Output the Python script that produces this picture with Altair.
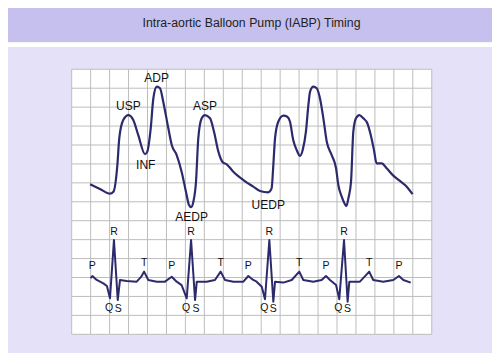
import altair as alt
import pandas as pd

TITLE = "Intra-aortic Balloon Pump (IABP) Timing"

# Arterial pressure trace (time and amplitude in grid squares)
art_t = [0.97, 1.49, 2.02, 2.20, 2.41, 2.51, 2.72, 2.99, 3.25, 3.51, 3.87, 3.99, 4.17, 4.31, 4.49, 4.66,
         4.83, 5.10, 5.28, 5.54, 5.80, 6.03, 6.19, 6.30, 6.42, 6.56, 6.68, 6.86, 7.03, 7.30, 7.51, 7.74,
         7.97, 8.18, 8.53, 9.06, 9.58, 9.94, 10.37, 10.55, 10.64, 10.73, 10.90, 11.17, 11.38, 11.52, 11.69,
         11.87, 12.05, 12.19, 12.36, 12.49, 12.58, 12.75, 12.93, 13.10, 13.28, 13.46, 13.72, 13.95, 14.07,
         14.25, 14.42, 14.50, 14.60, 14.74, 14.86, 15.00, 15.18, 15.39, 15.60, 15.78, 15.95, 16.09, 16.36,
         16.62, 16.97, 17.32, 17.68, 17.99]
art_p = [7.92, 7.68, 7.43, 7.53, 8.94, 10.35, 11.32, 11.58, 11.32, 10.53, 9.51, 9.65, 10.88, 12.47, 13.08, 13.00,
         12.29, 10.88, 10.00, 9.47, 8.59, 7.53, 6.83, 6.72, 7.00, 8.06, 10.35, 11.41, 11.58, 11.41, 10.70, 9.65,
         9.09, 8.98, 8.59, 8.15, 7.80, 7.57, 7.50, 7.71, 8.94, 10.35, 11.23, 11.55, 11.49, 11.23, 10.26,
         9.74, 9.43, 9.74, 10.70, 12.11, 12.82, 13.08, 13.00, 12.47, 11.41, 10.17, 9.47, 8.77, 7.89,
         7.27, 6.87, 6.78, 7.18, 8.06, 10.70, 11.41, 11.58, 11.41, 11.15, 10.53, 9.74, 9.03, 9.03,
         8.77, 8.38, 8.10, 7.80, 7.40]

# ECG trace
ecg_t = [1.00, 1.09, 1.32, 1.67, 1.86, 2.02, 2.23, 2.43, 2.55, 2.90, 3.43, 3.66, 3.82, 4.04, 4.49, 4.92,
         5.28, 5.54, 5.80, 6.07, 6.30, 6.51, 6.60, 7.12, 7.56, 7.86, 8.09, 8.53, 9.06, 9.32, 9.58, 9.76,
         10.03, 10.20, 10.43, 10.64, 10.73, 11.17, 11.61, 12.01, 12.22, 12.75, 13.19, 13.42, 13.63, 13.95,
         14.12, 14.37, 14.56, 14.65, 15.21, 15.70, 15.91, 16.44, 16.97, 17.27, 17.50, 17.89]
ecg_v = [2.96, 3.08, 2.87, 2.69, 2.55, 1.90, 4.98, 1.81, 2.87, 2.82, 2.78, 3.03, 3.31, 2.87, 2.78, 2.78,
         3.04, 2.78, 2.60, 1.90, 4.98, 1.81, 2.78, 2.78, 2.87, 3.31, 2.87, 2.78, 2.78, 3.08, 2.87, 2.78,
         2.51, 1.85, 4.98, 1.72, 2.78, 2.73, 2.87, 3.31, 2.87, 2.78, 2.87, 3.08, 2.87, 2.60,
         1.85, 4.98, 1.72, 2.78, 2.78, 3.31, 2.87, 2.78, 2.87, 3.08, 2.87, 2.73]

# Pressure annotations
press_labels = ["ADP", "USP", "INF", "ASP", "AEDP", "UEDP"]
press_lx = [4.48, 2.99, 3.91, 7.03, 6.33, 10.37]
press_ly = [13.56, 12.06, 8.94, 12.08, 6.21, 6.83]

# ECG annotations
ecg_labels = ["R", "R", "R", "R",
              "P", "P", "P", "P", "P",
              "T", "T", "T", "T",
              "Q", "Q", "Q", "Q",
              "S", "S", "S", "S"]
ecg_lx = [2.23, 6.30, 10.43, 14.37,
          1.09, 5.28, 9.32, 13.42, 17.27,
          3.82, 7.86, 12.01, 15.70,
          1.97, 6.03, 10.16, 14.07,
          2.46, 6.56, 10.64, 14.56]
ecg_ly = [5.42, 5.42, 5.42, 5.42,
          3.61, 3.61, 3.61, 3.61, 3.61,
          3.78, 3.78, 3.78, 3.78,
          1.39, 1.39, 1.39, 1.39,
          1.31, 1.31, 1.31, 1.31]

grid_x = list(range(0, 20))
grid_y = list(range(0, 15))

W, H = 484, 345
BAND = "#c6c0ee"
BG = "#e5e1f8"
INK = "#2c2a6c"
GRID = "#bdbdbd"
FONT = "Liberation Sans"

xs = alt.Scale(domain=[-3.361, 22.179], nice=False, zero=False)
ys = alt.Scale(domain=[-0.988, 17.237], nice=False, zero=False)

art_df = pd.DataFrame({"t": art_t, "p": art_p, "i": range(len(art_t))})
ecg_df = pd.DataFrame({"t": ecg_t, "v": ecg_v, "i": range(len(ecg_t))})
pl_df = pd.DataFrame({"label": press_labels, "x": press_lx, "y": press_ly})
el_df = pd.DataFrame({"label": ecg_labels, "x": ecg_lx, "y": ecg_ly})
gx_df = pd.DataFrame({"x": grid_x, "y0": min(grid_y), "y1": max(grid_y)})
gy_df = pd.DataFrame({"y": grid_y, "x0": min(grid_x), "x1": max(grid_x)})
box_df = pd.DataFrame({"x0": [min(grid_x)], "x1": [max(grid_x)], "y0": [min(grid_y)], "y1": [max(grid_y)]})
one = pd.DataFrame({"a": [0]})

band = alt.Chart(one).mark_rect(color=BAND).encode(
    x=alt.value(0), x2=alt.value(W), y=alt.value(0), y2=alt.value(34.3))
stripe = alt.Chart(one).mark_rect(color="white").encode(
    x=alt.value(0), x2=alt.value(W), y=alt.value(34.3), y2=alt.value(39))
title = alt.Chart(one).mark_text(text=TITLE, font=FONT, fontSize=12.3, color="#222222",
                                 align="center", baseline="middle").encode(
    x=alt.value(243.5), y=alt.value(14.7))

box = alt.Chart(box_df).mark_rect(color="white").encode(
    x=alt.X("x0:Q", scale=xs, axis=None), x2="x1:Q",
    y=alt.Y("y0:Q", scale=ys, axis=None), y2="y1:Q")
vlines = alt.Chart(gx_df).mark_rule(color=GRID, strokeWidth=1).encode(
    x=alt.X("x:Q", scale=xs, axis=None),
    y=alt.Y("y0:Q", scale=ys, axis=None), y2="y1:Q")
hlines = alt.Chart(gy_df).mark_rule(color=GRID, strokeWidth=1).encode(
    y=alt.Y("y:Q", scale=ys, axis=None),
    x=alt.X("x0:Q", scale=xs, axis=None), x2="x1:Q")

art = alt.Chart(art_df).mark_line(color=INK, strokeWidth=2.2, interpolate="monotone").encode(
    x=alt.X("t:Q", scale=xs, axis=None), y=alt.Y("p:Q", scale=ys, axis=None), order="i:Q")
ecg = alt.Chart(ecg_df).mark_line(color=INK, strokeWidth=2.0, strokeJoin="round").encode(
    x=alt.X("t:Q", scale=xs, axis=None), y=alt.Y("v:Q", scale=ys, axis=None), order="i:Q")

plab = alt.Chart(pl_df).mark_text(font=FONT, fontSize=12, color="#111111",
                                  align="center", baseline="middle").encode(
    x=alt.X("x:Q", scale=xs, axis=None), y=alt.Y("y:Q", scale=ys, axis=None), text="label:N")
elab = alt.Chart(el_df).mark_text(font=FONT, fontSize=10.5, color="#111111",
                                  align="center", baseline="middle").encode(
    x=alt.X("x:Q", scale=xs, axis=None), y=alt.Y("y:Q", scale=ys, axis=None), text="label:N")

chart = alt.layer(band, stripe, title, box, vlines, hlines, art, ecg, plab, elab).properties(
    width=W, height=H, padding=0, background=BG,
    autosize=alt.AutoSizeParams(type="none"),
).configure_view(stroke=None)

chart.save("out.html", embed_options={"renderer": "svg", "actions": False})
